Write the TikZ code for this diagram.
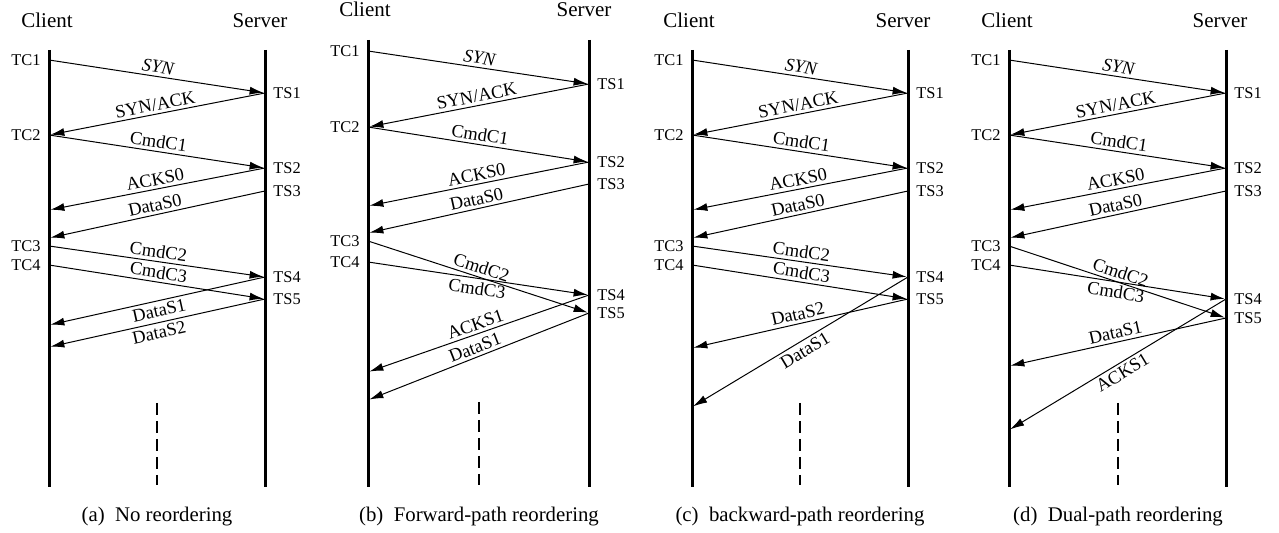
\documentclass[tikz,border=0pt]{standalone}
\usepackage{fontspec}
\setmainfont{Liberation Serif}
\usepackage{tikz}
\usetikzlibrary{arrows.meta, positioning}

\tikzset{
  lifeline/.style={line width=1.5pt},
  msg/.style={-{Latex[length=7pt,width=4pt]}, line width=0.5pt, shorten >=0.7pt},
  msglbl/.style={sloped, font=\fontsize{9.2}{10}\selectfont, inner sep=1.5pt},
  tlbl/.style={font=\fontsize{8.2}{10}\selectfont, inner sep=0pt},
  head/.style={font=\fontsize{10.5}{12}\selectfont, inner sep=0pt, anchor=base},
  capt/.style={font=\fontsize{10.4}{12}\selectfont, inner sep=0pt, anchor=base},
  gapline/.style={dash pattern=on 6pt off 3pt, line width=0.6pt}
}

\begin{document}
\begin{tikzpicture}[x=0.5pt, y=-0.5pt]
\useasboundingbox (0,0) rectangle (1279,533);

% (a) no reordering
\begin{scope}[shift={(49,0)}]
\coordinate (aCt) at (0,50); \coordinate (aCb) at (0,487);
\coordinate (aSt) at (216,50); \coordinate (aSb) at (216,487);
\coordinate (aGt) at (108,403); \coordinate (aGb) at (108,485);
\draw[lifeline] (aCt) -- (aCb);
\draw[lifeline] (aSt) -- (aSb);
\draw[gapline] (aGt) -- (aGb);
\node[head] (aclient) at (-2,28) {Client};
\node[head] (aserver) at (211,28) {Server};
\node[capt] (acapt) at (108,522) {(a)\hspace{0.5em}No reordering};
\coordinate (aTC1) at (0,60); \coordinate (aTS1) at (216,93);
\coordinate (aTC2) at (0,135); \coordinate (aTS2) at (216,168);
\coordinate (aR1) at (0,210); \coordinate (aTS3) at (216,191);
\coordinate (aR2) at (0,238); \coordinate (aTC3) at (0,246);
\coordinate (aTC4) at (0,265); \coordinate (aTS4) at (216,277);
\coordinate (aTS5) at (216,299); \coordinate (aR3) at (0,325);
\coordinate (aR4) at (0,347);
\foreach \t in {TC1,TC2,TC3,TC4} \node[tlbl, left=4pt of a\t] (a\t l) {\t};
\foreach \t in {TS1,TS2,TS3,TS4,TS5} \node[tlbl, right=4pt of a\t] (a\t l) {\t};
\draw[msg] (aTC1) -- node[msglbl, above] (aSYN) {\textit{SYN}} (aTS1);
\draw[msg] (aTS1) -- node[msglbl, above] (aSA) {SYN/ACK} (aTC2);
\draw[msg] (aTC2) -- node[msglbl, above] (aC1) {CmdC1} (aTS2);
\draw[msg] (aTS2) -- node[msglbl, above] (aA0) {ACKS0} (aR1);
\draw[msg] (aTS3) -- node[msglbl, above] (aD0) {DataS0} (aR2);
\draw[msg] (aTC3) -- node[msglbl, above] (aC2) {CmdC2} (aTS4);
\draw[msg] (aTC4) -- node[msglbl, above] (aC3) {CmdC3} (aTS5);
\draw[msg] (aTS4) -- node[msglbl, below] (aD1) {DataS1} (aR3);
\draw[msg] (aTS5) -- node[msglbl, below] (aD2) {DataS2} (aR4);
\end{scope}

% (b) forward-path reordering
\begin{scope}[shift={(368,0)}]
\coordinate (bCt) at (0,40); \coordinate (bCb) at (0,487);
\coordinate (bSt) at (221,40); \coordinate (bSb) at (221,487);
\coordinate (bGt) at (111,402); \coordinate (bGb) at (111,485);
\draw[lifeline] (bCt) -- (bCb);
\draw[lifeline] (bSt) -- (bSb);
\draw[gapline] (bGt) -- (bGb);
\node[head] (bclient) at (-3,17) {Client};
\node[head] (bserver) at (216,17) {Server};
\node[capt] (bcapt) at (111,522) {(b)\hspace{0.5em}Forward-path reordering};
\coordinate (bTC1) at (0,51); \coordinate (bTS1) at (221,84);
\coordinate (bTC2) at (0,127); \coordinate (bTS2) at (221,162);
\coordinate (bR1) at (0,206); \coordinate (bTS3) at (221,184);
\coordinate (bR2) at (0,233); \coordinate (bTC3) at (0,241);
\coordinate (bTC4) at (0,262); \coordinate (bTS4) at (221,295);
\coordinate (bTS5) at (221,313); \coordinate (bR3) at (0,372);
\coordinate (bR4) at (0,400);
\foreach \t in {TC1,TC2,TC3,TC4} \node[tlbl, left=4pt of b\t] (b\t l) {\t};
\foreach \t in {TS1,TS2,TS3,TS4,TS5} \node[tlbl, right=4pt of b\t] (b\t l) {\t};
\draw[msg] (bTC1) -- node[msglbl, above] (bSYN) {\textit{SYN}} (bTS1);
\draw[msg] (bTS1) -- node[msglbl, above] (bSA) {SYN/ACK} (bTC2);
\draw[msg] (bTC2) -- node[msglbl, above] (bC1) {CmdC1} (bTS2);
\draw[msg] (bTS2) -- node[msglbl, above] (bA0) {ACKS0} (bR1);
\draw[msg] (bTS3) -- node[msglbl, above] (bD0) {DataS0} (bR2);
\draw[msg] (bTC3) -- node[msglbl, above] (bC2) {CmdC2} (bTS5);
\draw[msg] (bTC4) -- node[msglbl, below] (bC3) {CmdC3} (bTS4);
\draw[msg] (bTS4) -- node[msglbl, above] (bA1) {ACKS1} (bR3);
\draw[msg] (bTS5) -- node[msglbl, above] (bD1) {DataS1} (bR4);
\end{scope}

% (c) backward-path reordering
\begin{scope}[shift={(692,0)}]
\coordinate (cCt) at (0,50); \coordinate (cCb) at (0,487);
\coordinate (cSt) at (216,50); \coordinate (cSb) at (216,487);
\coordinate (cGt) at (108,403); \coordinate (cGb) at (108,485);
\draw[lifeline] (cCt) -- (cCb);
\draw[lifeline] (cSt) -- (cSb);
\draw[gapline] (cGt) -- (cGb);
\node[head] (cclient) at (-3,28) {Client};
\node[head] (cserver) at (211,28) {Server};
\node[capt] (ccapt) at (108,522) {(c)\hspace{0.5em}backward-path reordering};
\coordinate (cTC1) at (0,60); \coordinate (cTS1) at (216,93);
\coordinate (cTC2) at (0,135); \coordinate (cTS2) at (216,168);
\coordinate (cR1) at (0,210); \coordinate (cTS3) at (216,191);
\coordinate (cR2) at (0,238); \coordinate (cTC3) at (0,246);
\coordinate (cTC4) at (0,265); \coordinate (cTS4) at (216,277);
\coordinate (cTS5) at (216,299); \coordinate (cR3) at (0,348);
\coordinate (cR4) at (0,407);
\foreach \t in {TC1,TC2,TC3,TC4} \node[tlbl, left=4pt of c\t] (c\t l) {\t};
\foreach \t in {TS1,TS2,TS3,TS4,TS5} \node[tlbl, right=4pt of c\t] (c\t l) {\t};
\draw[msg] (cTC1) -- node[msglbl, above] (cSYN) {\textit{SYN}} (cTS1);
\draw[msg] (cTS1) -- node[msglbl, above] (cSA) {SYN/ACK} (cTC2);
\draw[msg] (cTC2) -- node[msglbl, above] (cC1) {CmdC1} (cTS2);
\draw[msg] (cTS2) -- node[msglbl, above] (cA0) {ACKS0} (cR1);
\draw[msg] (cTS3) -- node[msglbl, above] (cD0) {DataS0} (cR2);
\draw[msg] (cTC3) -- node[msglbl, above] (cC2) {CmdC2} (cTS4);
\draw[msg] (cTC4) -- node[msglbl, above] (cC3) {CmdC3} (cTS5);
\draw[msg] (cTS5) -- node[msglbl, above] (cD2) {DataS2} (cR3);
\draw[msg] (cTS4) -- node[msglbl, below] (cD1) {DataS1} (cR4);
\end{scope}

% (d) dual-path reordering
\begin{scope}[shift={(1009,0)}]
\coordinate (dCt) at (0,50); \coordinate (dCb) at (0,487);
\coordinate (dSt) at (217,50); \coordinate (dSb) at (217,487);
\coordinate (dGt) at (109,403); \coordinate (dGb) at (109,485);
\draw[lifeline] (dCt) -- (dCb);
\draw[lifeline] (dSt) -- (dSb);
\draw[gapline] (dGt) -- (dGb);
\node[head] (dclient) at (-2,28) {Client};
\node[head] (dserver) at (211,28) {Server};
\node[capt] (dcapt) at (109,522) {(d)\hspace{0.5em}Dual-path reordering};
\coordinate (dTC1) at (0,60); \coordinate (dTS1) at (217,93);
\coordinate (dTC2) at (0,135); \coordinate (dTS2) at (217,168);
\coordinate (dR1) at (0,210); \coordinate (dTS3) at (217,191);
\coordinate (dR2) at (0,238); \coordinate (dTC3) at (0,246);
\coordinate (dTC4) at (0,265); \coordinate (dTS4) at (217,299);
\coordinate (dTS5) at (217,318); \coordinate (dR3) at (0,366);
\coordinate (dR4) at (0,430);
\foreach \t in {TC1,TC2,TC3,TC4} \node[tlbl, left=4pt of d\t] (d\t l) {\t};
\foreach \t in {TS1,TS2,TS3,TS4,TS5} \node[tlbl, right=4pt of d\t] (d\t l) {\t};
\draw[msg] (dTC1) -- node[msglbl, above] (dSYN) {\textit{SYN}} (dTS1);
\draw[msg] (dTS1) -- node[msglbl, above] (dSA) {SYN/ACK} (dTC2);
\draw[msg] (dTC2) -- node[msglbl, above] (dC1) {CmdC1} (dTS2);
\draw[msg] (dTS2) -- node[msglbl, above] (dA0) {ACKS0} (dR1);
\draw[msg] (dTS3) -- node[msglbl, above] (dD0) {DataS0} (dR2);
\draw[msg] (dTC3) -- node[msglbl, above] (dC2) {CmdC2} (dTS5);
\draw[msg] (dTC4) -- node[msglbl, below] (dC3) {CmdC3} (dTS4);
\draw[msg] (dTS5) -- node[msglbl, above] (dD1) {DataS1} (dR3);
\draw[msg] (dTS4) -- node[msglbl, below] (dA1) {ACKS1} (dR4);
\end{scope}
\end{tikzpicture}
\end{document}
